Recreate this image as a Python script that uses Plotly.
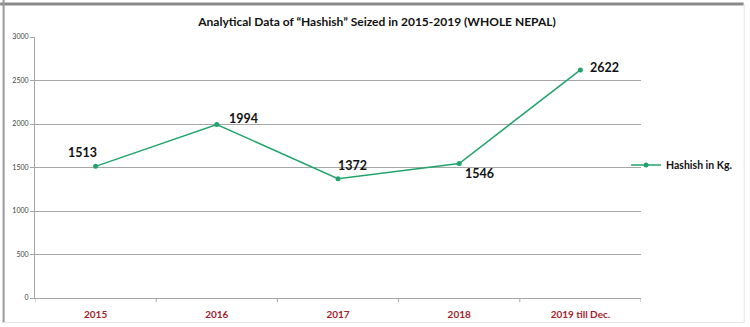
import plotly.graph_objects as go

years = ["2015", "2016", "2017", "2018", "2019 till Dec."]
hashish_kg = [1513, 1994, 1372, 1546, 2622]
series_name = "Hashish in Kg."
title_text = "Analytical Data of “Hashish” Seized in 2015-2019 (WHOLE NEPAL)"

# label offsets (pixels) for each data label
label_dx = [-13, 27, 14, 20, 24]
label_dy = [14, 6, 13, -10, 2]

GREEN = "#22A36C"
GRID = "#A6A6A6"
W, H = 750, 327
ML, MR, MT, MB = 35, 107, 37, 29
PW = W - ML - MR
PH = H - MT - MB

def px(x):
    return (x - ML) / PW

def py(y):
    return 1 - (y - MT) / PH

fig = go.Figure()
fig.add_trace(go.Scatter(
    x=list(range(len(years))), y=hashish_kg, name=f"<b>{series_name}</b>",
    mode="lines+markers",
    line=dict(color=GREEN, width=1.5),
    marker=dict(color=GREEN, size=5),
))

for i, (val, dx, dy) in enumerate(zip(hashish_kg, label_dx, label_dy)):
    fig.add_annotation(
        x=i, y=val, xref="x", yref="y", text=f"<b>{val}</b>", showarrow=False,
        xshift=dx, yshift=dy,
        font=dict(family="Lato", size=12.5, color="#111111"),
    )

# outer frame
frame = [
    dict(x0=px(0), x1=px(746), y0=py(4), y1=py(4), color="#8a8a8a", width=3),
    dict(x0=px(3.5), x1=px(3.5), y0=py(0), y1=py(323), color="#9a9a9a", width=2),
    dict(x0=px(746.5), x1=px(746.5), y0=py(4), y1=py(323), color="#e2e2e2", width=1),
    dict(x0=px(3), x1=px(746.5), y0=py(322.5), y1=py(322.5), color="#e6e6e6", width=1),
]
for f in frame:
    fig.add_shape(type="line", xref="paper", yref="paper",
                  x0=f["x0"], x1=f["x1"], y0=f["y0"], y1=f["y1"],
                  line=dict(color=f["color"], width=f["width"]), layer="above")

fig.update_layout(
    width=W, height=H,
    margin=dict(l=ML, r=MR, t=MT, b=MB),
    paper_bgcolor="white", plot_bgcolor="white",
    title=dict(text=f"<b>{title_text}</b>", x=377 / W, xanchor="center",
               y=1 - 22 / H, yanchor="middle", yref="container",
               font=dict(family="Lato", size=12, color="#111111")),
    showlegend=True,
    legend=dict(x=px(628), xanchor="left", y=py(165), yanchor="middle",
                font=dict(family="Lato", size=10.5, color="#111111"),
                bgcolor="rgba(0,0,0,0)", borderwidth=0),
    xaxis=dict(
        range=[-0.5, 4.5], tickmode="array",
        tickvals=list(range(len(years))), ticktext=[f"<b>{y}</b>" for y in years],
        showgrid=False, showline=True, linecolor=GRID, linewidth=1,
        ticks="", zeroline=False, ticklabelstandoff=7, automargin=False,
        tickfont=dict(family="Lato", size=10, color="#A31C2A"),
        fixedrange=True,
    ),
    yaxis=dict(
        range=[0, 3000], dtick=500, showgrid=True, gridcolor=GRID, gridwidth=1,
        showline=True, linecolor=GRID, linewidth=1, zeroline=False,
        ticks="outside", ticklen=4, tickcolor=GRID, automargin=False,
        tickfont=dict(family="Lato", size=7, color="#404040"),
        fixedrange=True,
    ),
)

# boundary tick marks on the category axis
for b in [i - 0.5 for i in range(len(years) + 1)]:
    fig.add_shape(type="line", xref="x", yref="paper", x0=b, x1=b, y0=0, y1=-4 / PH,
                  line=dict(color=GRID, width=1))

fig.write_html("out.html")
